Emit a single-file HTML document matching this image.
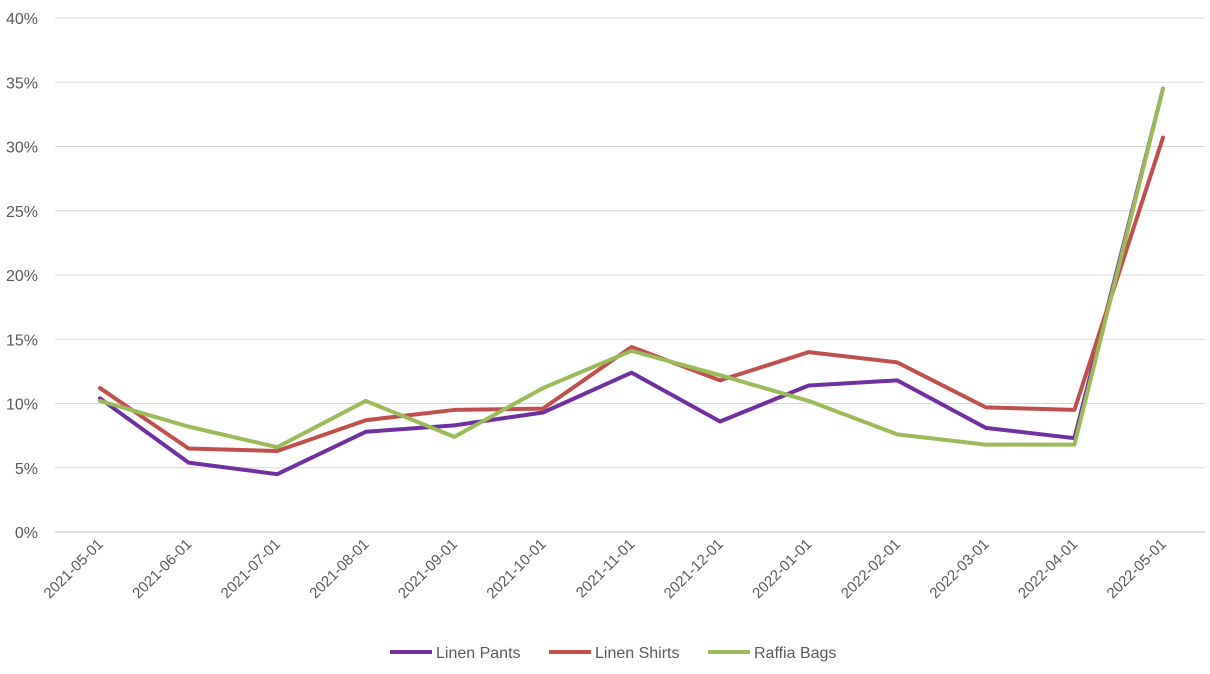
<!DOCTYPE html>
<html><head><meta charset="utf-8"><style>
body{margin:0;background:#fff;font-family:"Liberation Sans",sans-serif;}
svg text{font-family:"Liberation Sans",sans-serif;fill:#595959;}
</style></head><body>
<svg id="chart" width="1210" height="669" xmlns="http://www.w3.org/2000/svg">
<g id="grid"></g>
<g id="yticks"></g>
<g id="xticks"></g>
<g id="lines"></g>
<g id="legend"></g>
</svg>
<script>
const categories=["2021-05-01","2021-06-01","2021-07-01","2021-08-01","2021-09-01","2021-10-01","2021-11-01","2021-12-01","2022-01-01","2022-02-01","2022-03-01","2022-04-01","2022-05-01"];
const linenPants=[10.4,5.4,4.5,7.8,8.3,9.3,12.4,8.6,11.4,11.8,8.1,7.3,34.5];
const linenShirts=[11.2,6.5,6.3,8.7,9.5,9.6,14.4,11.8,14.0,13.2,9.7,9.5,30.7];
const raffiaBags=[10.2,8.2,6.6,10.2,7.4,11.2,14.1,12.2,10.2,7.6,6.8,6.8,34.5];
const yTicks=[0,5,10,15,20,25,30,35,40];
const seriesNames=["Linen Pants","Linen Shirts","Raffia Bags"];
const colors=["#7030a0","#c0504d","#9bbb59"];
const NS="http://www.w3.org/2000/svg";
const x0=100,x1=1163,y0=532,y1=18,left=55,right=1205;
const xs=i=>x0+(x1-x0)*i/(categories.length-1);
const ys=v=>y0-(y0-y1)*v/40;
function mk(tag,attrs,parent){const e=document.createElementNS(NS,tag);for(const k in attrs)e.setAttribute(k,attrs[k]);parent.appendChild(e);return e;}
const grid=document.getElementById('grid'),yt=document.getElementById('yticks'),xt=document.getElementById('xticks'),lines=document.getElementById('lines'),leg=document.getElementById('legend');
yTicks.forEach(v=>{
 const l=mk('line',{x1:left,x2:right,y1:ys(v),y2:ys(v),stroke:v===0?'#bfbfbf':'#d9d9d9','stroke-width':1},grid);
 
 
 const t=mk('text',{x:38,y:ys(v)+6,'text-anchor':'end','font-size':16},yt);
 t.textContent=v+'%';
 
 
});
categories.forEach((c,i)=>{
 const x=xs(i);
 const t=mk('text',{x:x+4,y:545,'text-anchor':'end','font-size':15,transform:`rotate(-45 ${x+4} 545)`},xt);
 t.textContent=c;
 
 
});
[linenPants,linenShirts,raffiaBags].forEach((arr,s)=>{
 const p=mk('polyline',{points:arr.map((v,i)=>xs(i)+','+ys(v)).join(' '),fill:'none',stroke:colors[s],'stroke-width':4,'stroke-linejoin':'round','stroke-linecap':'round'},lines);
 
 
});
const lx=[390,549,708];
seriesNames.forEach((n,s)=>{
 const g=mk('g',{},leg);
 
 
 mk('line',{x1:lx[s],x2:lx[s]+42,y1:652,y2:652,stroke:colors[s],'stroke-width':4},g);
 const t=mk('text',{x:lx[s]+46,y:658,'font-size':16},g);
 t.textContent=n;
});
</script>
</body></html>
